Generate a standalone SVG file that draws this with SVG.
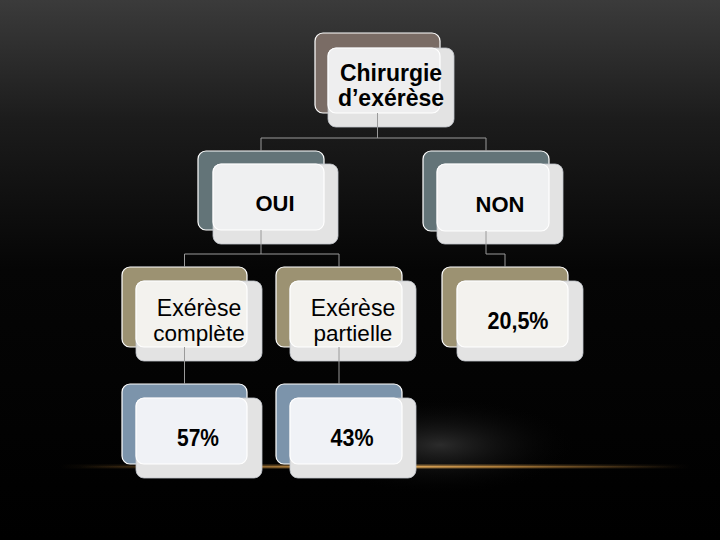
<svg xmlns="http://www.w3.org/2000/svg" width="720" height="540" viewBox="0 0 720 540">
<defs>
<linearGradient id="bg" x1="0" y1="0" x2="0" y2="1">
<stop offset="0" stop-color="#3b3b3b"/>
<stop offset="0.22" stop-color="#1c1c1c"/>
<stop offset="0.5" stop-color="#050505"/>
<stop offset="1" stop-color="#000"/>
</linearGradient>
<radialGradient id="halo" cx="0.5" cy="0.5" r="0.5">
<stop offset="0" stop-color="#303030" stop-opacity="0.9"/>
<stop offset="1" stop-color="#000" stop-opacity="0"/>
</radialGradient>
<linearGradient id="line" x1="0" y1="0" x2="1" y2="0">
<stop offset="0" stop-color="#b07a30" stop-opacity="0"/>
<stop offset="0.2" stop-color="#9a6a2a" stop-opacity="0.5"/>
<stop offset="0.5" stop-color="#e8b060" stop-opacity="1"/>
<stop offset="0.7" stop-color="#c08a40" stop-opacity="0.8"/>
<stop offset="1" stop-color="#805a28" stop-opacity="0"/>
</linearGradient>
<style>
.back{stroke:#ffffff;stroke-width:1.2}
.front{fill:#e3e3e3;stroke:#c2c5cc;stroke-width:0.8}
.ov{stroke:#ffffff;stroke-width:1.2}
.c1 .back{fill:#7a6c65}.c1 .ov{fill:#eeeeef}
.c2 .back{fill:#637478}.c2 .ov{fill:#eff0f1}
.c3 .back{fill:#9c9272}.c3 .ov{fill:#f3f2ee}
.c4 .back{fill:#7c94ab}.c4 .ov{fill:#f0f2f6}
text{font-family:"Liberation Sans",Arial,sans-serif;fill:#000;text-anchor:middle}
.b{font-weight:bold}
.conn{fill:none;stroke:#9a9a9a;stroke-width:1}
</style>
</defs>
<rect width="720" height="540" fill="url(#bg)"/>
<ellipse cx="440" cy="445" rx="140" ry="50" fill="url(#halo)"/>
<rect x="60" y="464.5" width="630" height="4" fill="url(#line)" opacity="0.6"/>
<rect x="80" y="466" width="600" height="1.5" fill="url(#line)"/>

<g id="n-chirurgie" class="c1">
<rect class="back" x="315" y="33" width="125" height="80" rx="8"/>
<rect class="front" x="328" y="48" width="126" height="79" rx="8"/>
<rect class="ov" x="328" y="48" width="112" height="65" rx="8"/>
<text class="b" x="391" y="81" font-size="23">Chirurgie</text>
<text class="b" x="391" y="106" font-size="23">d’exérèse</text>
</g>

<g id="n-oui" class="c2">
<rect class="back" x="198" y="151" width="126" height="79" rx="8"/>
<rect class="front" x="213" y="164" width="125" height="80" rx="8"/>
<rect class="ov" x="213" y="164" width="111" height="66" rx="8"/>
<text class="b" x="275" y="211" font-size="22">OUI</text>
</g>

<g id="n-non" class="c2">
<rect class="back" x="423" y="151" width="126" height="80" rx="8"/>
<rect class="front" x="437" y="164" width="126" height="80" rx="8"/>
<rect class="ov" x="437" y="164" width="112" height="67" rx="8"/>
<text class="b" x="500" y="212" font-size="22">NON</text>
</g>

<g id="n-complete" class="c3">
<rect class="back" x="122" y="267" width="125" height="80" rx="8"/>
<rect class="front" x="136" y="281" width="126" height="80" rx="8"/>
<rect class="ov" x="136" y="281" width="111" height="66" rx="8"/>
<text x="199" y="316" font-size="23">Exérèse</text>
<text x="199" y="341" font-size="22.5">complète</text>
</g>

<g id="n-partielle" class="c3">
<rect class="back" x="276" y="267" width="126" height="80" rx="8"/>
<rect class="front" x="290" y="281" width="126" height="80" rx="8"/>
<rect class="ov" x="290" y="281" width="112" height="66" rx="8"/>
<text x="353" y="316" font-size="23">Exérèse</text>
<text x="353" y="341" font-size="22.5">partielle</text>
</g>

<g id="n-205" class="c3">
<rect class="back" x="442" y="267" width="126" height="80" rx="8"/>
<rect class="front" x="457" y="281" width="126" height="80" rx="8"/>
<rect class="ov" x="457" y="281" width="111" height="66" rx="8"/>
<text class="b" x="518" y="329" font-size="23" textLength="61" lengthAdjust="spacingAndGlyphs">20,5%</text>
</g>

<g id="n-57" class="c4">
<rect class="back" x="122" y="384" width="125" height="80" rx="8"/>
<rect class="front" x="136" y="398" width="126" height="80" rx="8"/>
<rect class="ov" x="136" y="398" width="111" height="66" rx="8"/>
<text class="b" x="198" y="446" font-size="23" textLength="42" lengthAdjust="spacingAndGlyphs">57%</text>
</g>

<g id="n-43" class="c4">
<rect class="back" x="276" y="384" width="126" height="80" rx="8"/>
<rect class="front" x="290" y="398" width="126" height="80" rx="8"/>
<rect class="ov" x="290" y="398" width="112" height="66" rx="8"/>
<text class="b" x="352" y="446" font-size="23" textLength="43" lengthAdjust="spacingAndGlyphs">43%</text>
</g>

<g id="connectors">
<path class="conn" d="M377.5 113 V138 M261 138 H486 M261 138 V151 M486 138 V151"/>
<path class="conn" d="M261 230 V254 M184.5 254 H339 M184.5 254 V267 M339 254 V267"/>
<path class="conn" d="M486 231 V254 H505 V267"/>
<path class="conn" d="M184.5 347 V384 M339 347 V384"/>
</g>
</svg>
